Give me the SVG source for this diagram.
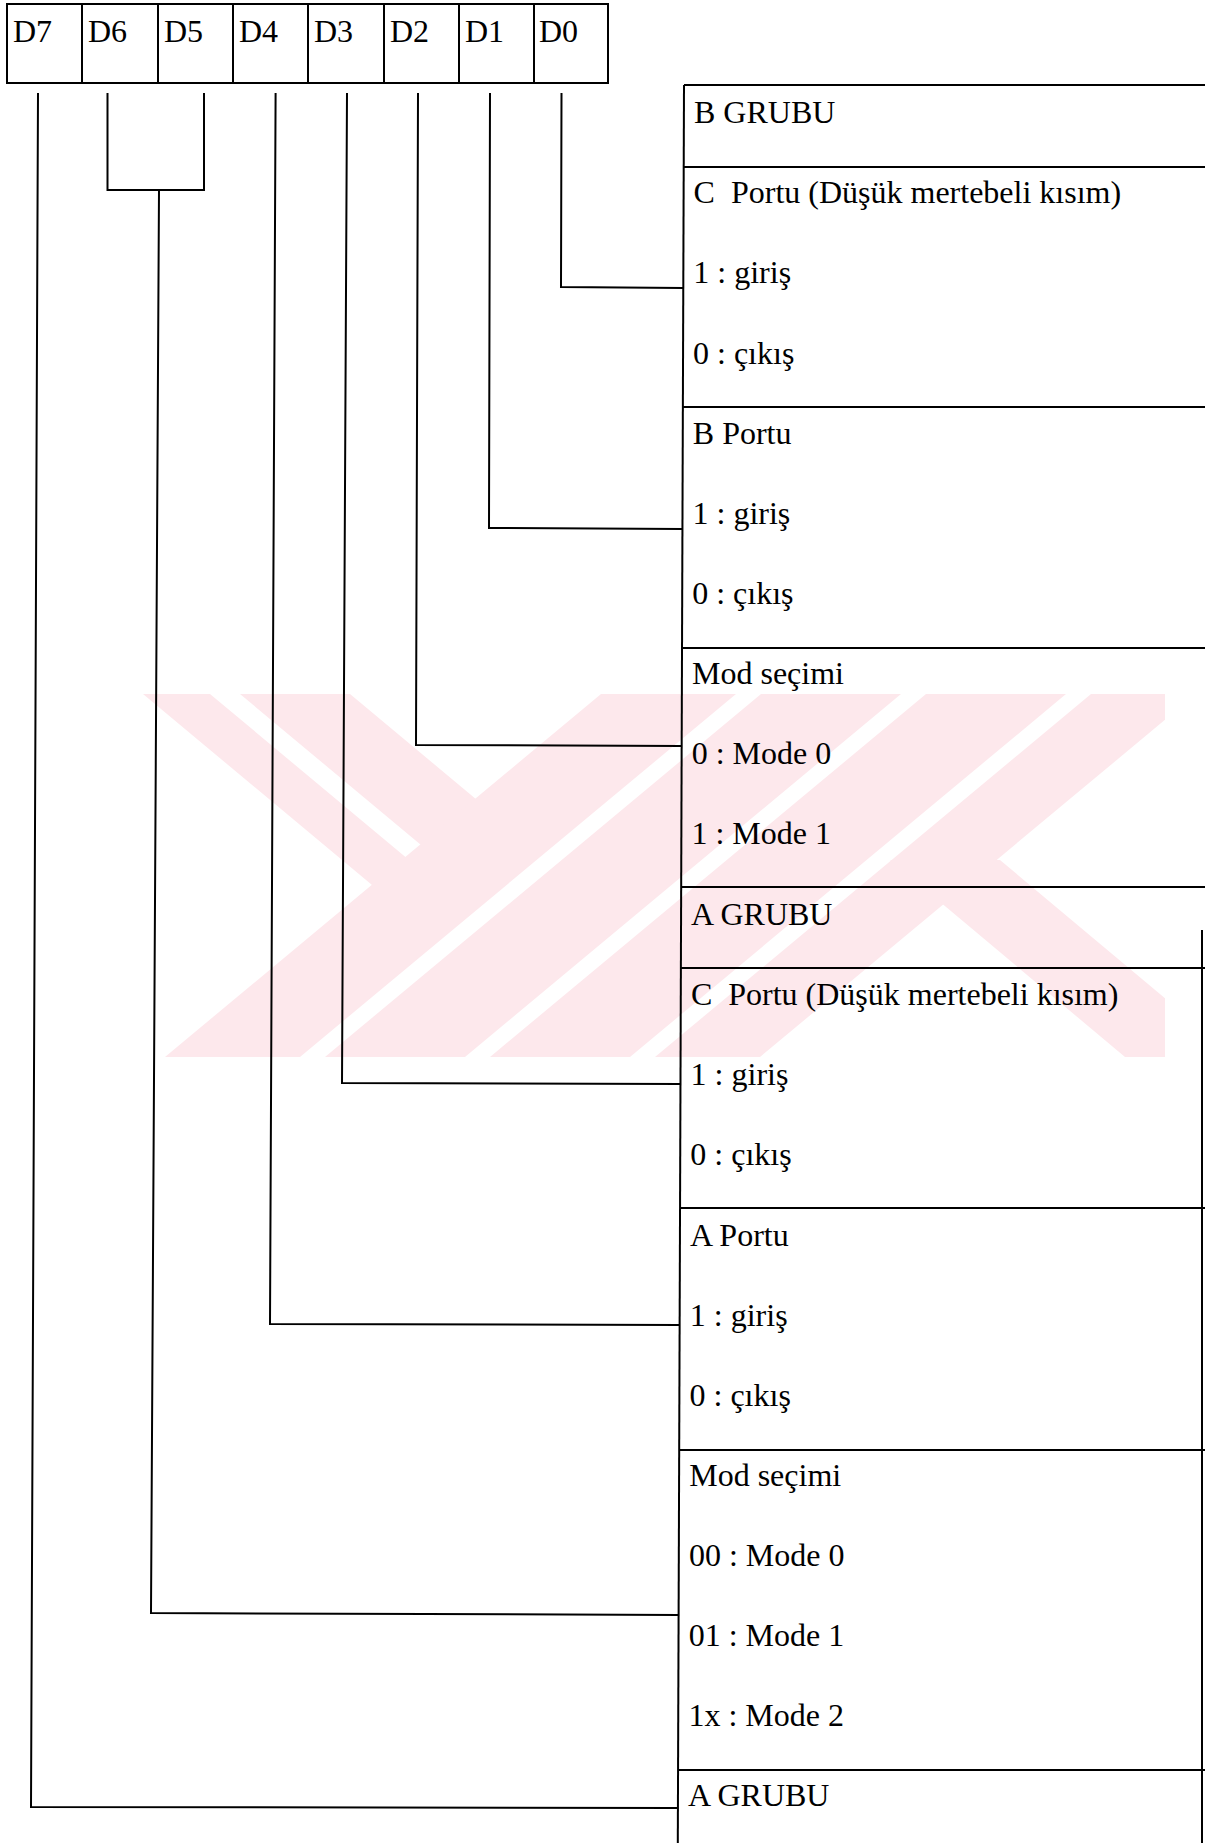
<svg xmlns="http://www.w3.org/2000/svg" width="1205" height="1843" viewBox="0 0 1205 1843">
<style>
  .ln { stroke:#000; stroke-width:2; fill:none; }
  .t { font-family:"Liberation Serif","Times New Roman",serif; font-size:32px; fill:#000; white-space:pre; }
  .wm { fill:#fde8ec; stroke:none; }
</style>
<defs>
  <clipPath id="wmclip"><rect x="143" y="694" width="1022" height="363"/></clipPath>
</defs>
<rect width="1205" height="1843" fill="#fff"/>
<g id="watermark" clip-path="url(#wmclip)">
  <polygon class="wm" points="143,694 210,694 457,900 390,900"/>
  <polygon class="wm" points="240,694 350,694 537,850 427,850"/>
  <polygon class="wm" points="165,1057 300,1057 736,694 601,694"/>
  <polygon class="wm" points="325,1057 465,1057 901,694 761,694"/>
  <polygon class="wm" points="490,1057 630,1057 1066,694 926,694"/>
  <polygon class="wm" points="655,1057 760,1057 1196,694 1091,694"/>
  <polygon class="wm" points="890,860 1000,860 1235,1057 1125,1057"/>
</g>
<g id="register">
  <rect class="ln" x="7" y="4" width="601" height="79"/>
  <line class="ln" x1="82" y1="4" x2="82" y2="83"/>
  <line class="ln" x1="158" y1="4" x2="158" y2="83"/>
  <line class="ln" x1="233" y1="4" x2="233" y2="83"/>
  <line class="ln" x1="308" y1="4" x2="308" y2="83"/>
  <line class="ln" x1="384" y1="4" x2="384" y2="83"/>
  <line class="ln" x1="459" y1="4" x2="459" y2="83"/>
  <line class="ln" x1="534" y1="4" x2="534" y2="83"/>
  <text class="t" x="13" y="42">D7</text>
  <text class="t" x="88" y="42">D6</text>
  <text class="t" x="164" y="42">D5</text>
  <text class="t" x="239" y="42">D4</text>
  <text class="t" x="314" y="42">D3</text>
  <text class="t" x="390" y="42">D2</text>
  <text class="t" x="465" y="42">D1</text>
  <text class="t" x="539" y="42">D0</text>
</g>
<g id="table">
  <line class="ln" x1="684" y1="85" x2="677.8" y2="1843"/>
  <line class="ln" x1="1202" y1="930" x2="1202" y2="1843"/>
  <line class="ln" x1="684" y1="85" x2="1205" y2="85"/>
  <line class="ln" x1="683.7" y1="167" x2="1205" y2="167"/>
  <line class="ln" x1="682.9" y1="407" x2="1205" y2="407"/>
  <line class="ln" x1="682" y1="648" x2="1205" y2="648"/>
  <line class="ln" x1="681.2" y1="887" x2="1205" y2="887"/>
  <line class="ln" x1="680.9" y1="968" x2="1205" y2="968"/>
  <line class="ln" x1="680.1" y1="1208" x2="1205" y2="1208"/>
  <line class="ln" x1="679.2" y1="1450" x2="1205" y2="1450"/>
  <line class="ln" x1="678.1" y1="1770" x2="1205" y2="1770"/>
</g>
<g id="node-b-grubu"><text class="t" x="694" y="123">B GRUBU</text></g>
<g id="node-c-portu-b">
  <text class="t" x="693.6" y="203">C  Portu (Düşük mertebeli kısım)</text>
  <text class="t" x="693.3" y="283">1 : giriş</text>
  <text class="t" x="693" y="364">0 : çıkış</text>
</g>
<g id="node-b-portu">
  <text class="t" x="692.8" y="444">B Portu</text>
  <text class="t" x="692.5" y="524">1 : giriş</text>
  <text class="t" x="692.2" y="604">0 : çıkış</text>
</g>
<g id="node-mod-b">
  <text class="t" x="692" y="684">Mod seçimi</text>
  <text class="t" x="691.7" y="764">0 : Mode 0</text>
  <text class="t" x="691.4" y="844">1 : Mode 1</text>
</g>
<g id="node-a-grubu"><text class="t" x="691.1" y="925">A GRUBU</text></g>
<g id="node-c-portu-a">
  <text class="t" x="690.9" y="1005">C  Portu (Düşük mertebeli kısım)</text>
  <text class="t" x="690.6" y="1085">1 : giriş</text>
  <text class="t" x="690.3" y="1165">0 : çıkış</text>
</g>
<g id="node-a-portu">
  <text class="t" x="690" y="1246">A Portu</text>
  <text class="t" x="689.8" y="1326">1 : giriş</text>
  <text class="t" x="689.5" y="1406">0 : çıkış</text>
</g>
<g id="node-mod-a">
  <text class="t" x="689.2" y="1486">Mod seçimi</text>
  <text class="t" x="688.9" y="1566">00 : Mode 0</text>
  <text class="t" x="688.7" y="1646">01 : Mode 1</text>
  <text class="t" x="688.4" y="1726">1x : Mode 2</text>
</g>
<g id="node-a-grubu-2"><text class="t" x="688.1" y="1806">A GRUBU</text></g>
<g id="connectors">
  <polyline class="ln" points="561.5,93 561,287 683.3,288"/>
  <polyline class="ln" points="490,93 489,528 682.5,529"/>
  <polyline class="ln" points="418,93 416,745 681.6,746"/>
  <polyline class="ln" points="347,93 342,1083 680.6,1084"/>
  <polyline class="ln" points="275.6,93 270,1324 679.8,1325"/>
  <polyline class="ln" points="107.5,93 107.5,190 204,190 204,93"/>
  <polyline class="ln" points="159,190 151,1613 678.8,1615"/>
  <polyline class="ln" points="38,93 31,1807 678,1808"/>
</g>
</svg>
